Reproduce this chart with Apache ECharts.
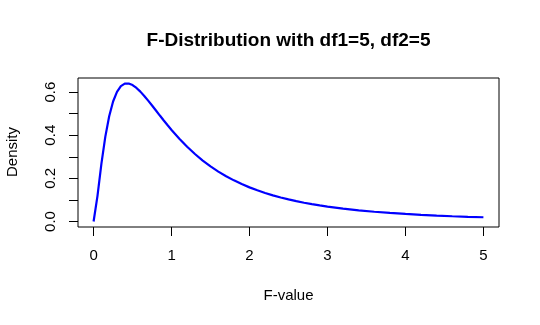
<!DOCTYPE html>
<html>
<head>
<meta charset="utf-8">
<script src="https://cdn.jsdelivr.net/npm/echarts@6/dist/echarts.min.js"></script>
<style>
html,body{margin:0;padding:0;background:#fff;}
#chart{width:540px;height:325px;}
</style>
</head>
<body>
<div id="chart"></div>
<script>
// F-values (x) and density values
var fValues = [0, 0.05, 0.1, 0.15, 0.2, 0.25, 0.3, 0.35, 0.4, 0.45, 0.5, 0.55, 0.6, 0.65, 0.7, 0.75, 0.8, 0.85, 0.9, 0.95,
  1.0, 1.1, 1.2, 1.3, 1.4, 1.5, 1.6, 1.7, 1.8, 1.9, 2.0, 2.1, 2.2, 2.3, 2.4, 2.5, 2.6, 2.7, 2.8, 2.9, 3.0,
  3.2, 3.4, 3.6, 3.8, 4.0, 4.2, 4.4, 4.6, 4.8, 5.0];
var densityValues = [0, 0.119, 0.2667, 0.3923, 0.4882, 0.5563, 0.6010, 0.6272, 0.6388, 0.6396, 0.6323, 0.6192, 0.6020, 0.5820, 0.5602, 0.5375, 0.5143, 0.4911, 0.4683, 0.4460,
  0.4244, 0.3837, 0.3464, 0.3128, 0.2825, 0.2555, 0.2313, 0.2098, 0.1906, 0.1734, 0.1581, 0.1444, 0.1321, 0.1211, 0.1111, 0.1022, 0.0942, 0.0869, 0.0803, 0.0743, 0.0689,
  0.0595, 0.0516, 0.0450, 0.0395, 0.0348, 0.0308, 0.0273, 0.0243, 0.0218, 0.0195];
var xTicks = [0, 1, 2, 3, 4, 5];
var yTicks = [0, 0.1, 0.2, 0.3, 0.4, 0.5, 0.6];
var yTickLabels = [0, 0.2, 0.4, 0.6];
var titleText = 'F-Distribution with df1=5, df2=5';
var xName = 'F-value';
var yName = 'Density';

var seriesData = fValues.map(function (x, i) { return [x, densityValues[i]]; });

var FONT = '"Liberation Sans", Arial, sans-serif';
var chart = echarts.init(document.getElementById('chart'), null, {renderer: 'canvas'});
chart.setOption({
  animation: false,
  backgroundColor: '#ffffff',
  grid: {left: 78, top: 78, right: 41, bottom: 98, show: true, borderColor: '#000', borderWidth: 1, backgroundColor: 'transparent'},
  xAxis: {
    type: 'value', min: -0.2, max: 5.2,
    axisLine: {show: false, onZero: false},
    splitLine: {show: false},
    axisTick: {show: true, customValues: xTicks, length: 9, lineStyle: {color: '#000', width: 1}},
    axisLabel: {show: true, customValues: xTicks, margin: 21, color: '#000', fontSize: 15, fontFamily: FONT,
      formatter: function (v) { return String(v); }}
  },
  yAxis: {
    type: 'value', min: -0.0256, max: 0.6652,
    axisLine: {show: false, onZero: false},
    splitLine: {show: false},
    axisTick: {show: true, customValues: yTicks, length: 9, lineStyle: {color: '#000', width: 1}},
    axisLabel: {show: true, customValues: yTickLabels, rotate: 90, margin: 20, color: '#000', fontSize: 15, fontFamily: FONT,
      formatter: function (v) { return v.toFixed(1); }}
  },
  graphic: [
    {type: 'text', x: 288.5, y: 41, style: {text: titleText, fill: '#000', font: 'bold 19px ' + FONT, textAlign: 'center', textVerticalAlign: 'middle'}},
    {type: 'text', x: 288.5, y: 296, style: {text: xName, fill: '#000', font: '15px ' + FONT, textAlign: 'center', textVerticalAlign: 'middle'}},
    {type: 'text', x: 13, y: 152, rotation: Math.PI / 2, style: {text: yName, fill: '#000', font: '15px ' + FONT, textAlign: 'center', textVerticalAlign: 'middle'}}
  ],
  series: [{
    type: 'line', data: seriesData, symbol: 'none', smooth: false,
    lineStyle: {color: '#0000ff', width: 2.2}
  }]
});
</script>
</body>
</html>
